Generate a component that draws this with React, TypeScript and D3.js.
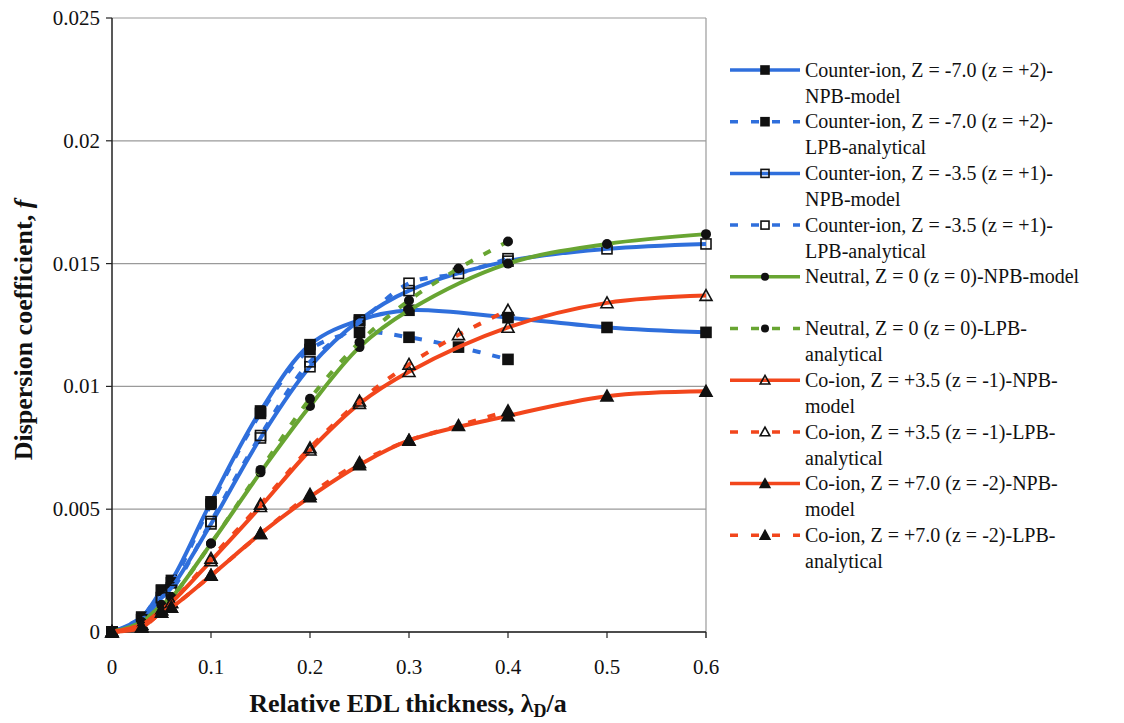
import * as d3 from 'd3';

// x positions of the computed points
const xNPB = [0, 0.03, 0.05, 0.06, 0.1, 0.15, 0.2, 0.25, 0.3, 0.4, 0.5, 0.6];
const xLPB = [0, 0.03, 0.05, 0.06, 0.1, 0.15, 0.2, 0.25, 0.3, 0.35, 0.4];

// dispersion coefficient f
const counterZ7NPB = [0, 0.0006, 0.0017, 0.0021, 0.0053, 0.009, 0.0117, 0.0127, 0.0131, 0.0128, 0.0124, 0.0122];
const counterZ7LPB = [0, 0.0006, 0.0017, 0.002, 0.0052, 0.0089, 0.0115, 0.0122, 0.012, 0.0116, 0.0111];
const counterZ35NPB = [0, 0.0005, 0.0014, 0.0018, 0.0044, 0.0079, 0.0108, 0.0127, 0.0139, 0.0151, 0.0156, 0.0158];
const counterZ35LPB = [0, 0.0005, 0.0014, 0.0017, 0.0045, 0.008, 0.011, 0.0126, 0.0142, 0.0146, 0.0152];
const neutralNPB = [0, 0.0004, 0.0011, 0.0014, 0.0036, 0.0065, 0.0092, 0.0116, 0.0131, 0.015, 0.0158, 0.0162];
const neutralLPB = [0, 0.0004, 0.0011, 0.0014, 0.0036, 0.0066, 0.0095, 0.0118, 0.0135, 0.0148, 0.0159];
const coZ35NPB = [0, 0.0003, 0.0009, 0.0012, 0.0029, 0.0051, 0.0074, 0.0093, 0.0106, 0.0124, 0.0134, 0.0137];
const coZ35LPB = [0, 0.0003, 0.0009, 0.0012, 0.003, 0.0052, 0.0075, 0.0094, 0.0109, 0.0121, 0.0131];
const coZ7NPB = [0, 0.0002, 0.0008, 0.001, 0.0023, 0.004, 0.0055, 0.0068, 0.0078, 0.0088, 0.0096, 0.0098];
const coZ7LPB = [0, 0.0002, 0.0008, 0.001, 0.0023, 0.004, 0.0056, 0.0069, 0.0078, 0.0084, 0.009];

const xTicks = [0, 0.1, 0.2, 0.3, 0.4, 0.5, 0.6];
const yTicks = [0, 0.005, 0.01, 0.015, 0.02, 0.025];

const BLUE = '#2f6fdc';
const GREEN = '#68a532';
const RED = '#f2461c';

const series = [
  { name: ['Counter-ion, Z = -7.0 (z = +2)-', 'NPB-model'], x: xNPB, y: counterZ7NPB, color: BLUE, dashed: false, marker: 'square' },
  { name: ['Counter-ion, Z = -7.0 (z = +2)-', 'LPB-analytical'], x: xLPB, y: counterZ7LPB, color: BLUE, dashed: true, marker: 'square' },
  { name: ['Counter-ion, Z = -3.5 (z = +1)-', 'NPB-model'], x: xNPB, y: counterZ35NPB, color: BLUE, dashed: false, marker: 'openSquare' },
  { name: ['Counter-ion, Z = -3.5 (z = +1)-', 'LPB-analytical'], x: xLPB, y: counterZ35LPB, color: BLUE, dashed: true, marker: 'openSquare' },
  { name: ['Neutral, Z = 0 (z = 0)-NPB-model'], x: xNPB, y: neutralNPB, color: GREEN, dashed: false, marker: 'circle' },
  { name: ['Neutral, Z = 0 (z = 0)-LPB-', 'analytical'], x: xLPB, y: neutralLPB, color: GREEN, dashed: true, marker: 'circle' },
  { name: ['Co-ion, Z = +3.5 (z = -1)-NPB-', 'model'], x: xNPB, y: coZ35NPB, color: RED, dashed: false, marker: 'openTriangle' },
  { name: ['Co-ion, Z = +3.5 (z = -1)-LPB-', 'analytical'], x: xLPB, y: coZ35LPB, color: RED, dashed: true, marker: 'openTriangle' },
  { name: ['Co-ion, Z = +7.0 (z = -2)-NPB-', 'model'], x: xNPB, y: coZ7NPB, color: RED, dashed: false, marker: 'triangle' },
  { name: ['Co-ion, Z = +7.0 (z = -2)-LPB-', 'analytical'], x: xLPB, y: coZ7LPB, color: RED, dashed: true, marker: 'triangle' },
];

const FONT = "'Liberation Serif', 'Tinos', 'DejaVu Serif', 'Noto Serif', 'Times New Roman', serif";

function Marker({ kind, cx, cy, s = 1 }: { kind: string; cx: number; cy: number; s?: number }) {
  if (kind === 'square' || kind === 'openSquare') {
    const h = 5 * s;
    return (
      <rect x={cx - h} y={cy - h} width={2 * h} height={2 * h}
        fill={kind === 'square' ? '#111' : 'none'} stroke="#111" strokeWidth={1.6} />
    );
  }
  if (kind === 'circle') return <circle cx={cx} cy={cy} r={5 * s} fill="#111" />;
  const h = 6 * s;
  const pts = `${cx},${cy - h} ${cx + h},${cy + h * 0.8} ${cx - h},${cy + h * 0.8}`;
  return <polygon points={pts} fill={kind === 'triangle' ? '#111' : 'none'} stroke="#111" strokeWidth={1.6} />;
}

export default function App() {
  const width = 1124;
  const height = 723;
  const left = 112, right = 706, top = 18, bottom = 632;

  const x = d3.scaleLinear().domain([0, 0.6]).range([left, right]);
  const y = d3.scaleLinear().domain([0, 0.025]).range([bottom, top]);

  const line = d3.line<[number, number]>()
    .x(d => x(d[0]))
    .y(d => y(d[1]))
    .curve(d3.curveCatmullRom.alpha(0.5));

  const legX = 730, legW = 70, legTextX = 805, legY0 = 70, legStep = 51.7, legLine = 26;
  const txt = { fontFamily: FONT, fill: '#111' };

  return (
    <svg width={width} height={height} style={{ position: 'absolute', left: 0, top: 0, background: '#fff' }}>
      {/* grid */}
      {yTicks.map(t => (
        <line key={'g' + t} x1={left} x2={right} y1={y(t)} y2={y(t)} stroke="#9a9a9a" strokeWidth={1.2} />
      ))}
      <line x1={right} x2={right} y1={top} y2={bottom + 6} stroke="#9a9a9a" strokeWidth={1.2} />

      {/* axes */}
      <line x1={left} x2={left} y1={top} y2={bottom} stroke="#222" strokeWidth={1.5} />
      <line x1={left} x2={right} y1={bottom} y2={bottom} stroke="#222" strokeWidth={1.5} />
      {yTicks.map(t => (
        <g key={'y' + t}>
          <line x1={left - 6} x2={left} y1={y(t)} y2={y(t)} stroke="#222" strokeWidth={1.2} />
          <text x={left - 12} y={y(t)} dy="0.33em" textAnchor="end" fontSize={21} style={txt}>{t}</text>
        </g>
      ))}
      {xTicks.map(t => (
        <g key={'x' + t}>
          <line x1={x(t)} x2={x(t)} y1={bottom} y2={bottom + 6} stroke="#222" strokeWidth={1.2} />
          <text x={x(t)} y={bottom + 42} textAnchor="middle" fontSize={21} style={txt}>{t}</text>
        </g>
      ))}

      {/* axis titles */}
      <text transform={`translate(32,330) rotate(-90)`} textAnchor="middle"
        fontSize={26} fontWeight="bold" style={txt}>
        Dispersion coefficient, <tspan fontStyle="italic">f</tspan>
      </text>
      <text x={408} y={712} textAnchor="middle" fontSize={26} fontWeight="bold" style={txt}>
        Relative EDL thickness, λ<tspan fontSize={18} dy={5}>D</tspan><tspan dy={-5}>/a</tspan>
      </text>

      {/* series */}
      {series.map((s, i) => {
        const pts = s.x.map((v, j) => [v, s.y[j]] as [number, number]);
        return (
          <g key={'s' + i}>
            <path d={line(pts) ?? ''} fill="none" stroke={s.color} strokeWidth={4}
              strokeDasharray={s.dashed ? '8,12' : undefined} />
            {pts.map((p, j) => <Marker key={j} kind={s.marker} cx={x(p[0])} cy={y(p[1])} />)}
          </g>
        );
      })}

      {/* legend */}
      {series.map((s, i) => {
        const ly = legY0 + i * legStep;
        return (
          <g key={'l' + i}>
            <line x1={legX} x2={legX + legW} y1={ly} y2={ly} stroke={s.color} strokeWidth={3.5}
              strokeDasharray={s.dashed ? '8,13' : undefined} />
            <Marker kind={s.marker} cx={legX + legW / 2} cy={ly} s={0.8} />
            {s.name.map((t, k) => (
              <text key={k} x={legTextX} y={ly + k * legLine} dy="0.33em" fontSize={20} style={txt}>{t}</text>
            ))}
          </g>
        );
      })}
    </svg>
  );
}
